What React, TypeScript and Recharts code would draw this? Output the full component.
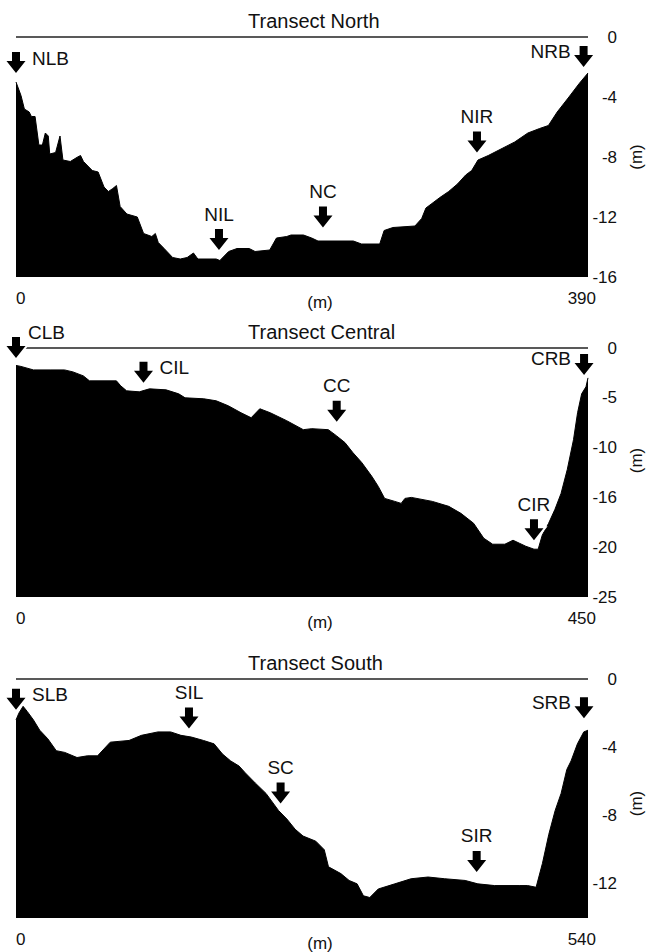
import React from 'react';
import { AreaChart, Area, XAxis, YAxis, ReferenceLine, ReferenceDot } from 'recharts';

const FONT = '"Liberation Sans", Arial, Helvetica, sans-serif';

// Transect North: distance across (m) and depth (m)
const northDistance = [0, 3.4, 5.7, 9, 10.5, 13, 15.6, 18, 20, 22, 23, 27, 30, 32, 37, 42, 44, 46, 52, 56, 60, 63, 66, 68.5, 71, 75.6, 82.7, 87, 92.6, 95, 97, 101, 106.8, 112, 116.7, 121, 124, 136.5, 139, 145, 150.7, 159, 163, 173, 177.6, 184.6, 187.5, 196, 201.6, 205.9, 230, 235.6, 248, 251, 257, 272, 276.6, 279.5, 283.6, 289, 295, 301, 306.6, 310.7, 315, 322, 332, 340, 349, 357, 363, 369, 377, 384, 390];
const northDepth = [-3.0, -3.9, -4.8, -5.0, -5.3, -5.3, -7.2, -7.2, -6.4, -6.6, -7.8, -7.7, -6.6, -8.2, -8.3, -8.0, -7.9, -8.3, -8.9, -9.0, -10.0, -10.3, -10.1, -9.9, -11.3, -11.8, -12.0, -13.1, -13.3, -13.1, -13.7, -14.1, -14.7, -14.8, -14.7, -14.4, -14.8, -14.8, -14.9, -14.3, -14.1, -14.1, -14.3, -14.2, -13.4, -13.3, -13.2, -13.2, -13.4, -13.6, -13.6, -13.8, -13.8, -12.9, -12.7, -12.6, -12.1, -11.4, -11.1, -10.7, -10.3, -9.8, -9.2, -8.9, -8.2, -7.9, -7.4, -7.0, -6.4, -6.1, -5.9, -5.0, -4.0, -3.1, -2.4];

// Transect Central
const centralDistance = [0, 3.9, 13.7, 26.8, 38.2, 44.8, 53, 57.8, 79, 82.4, 87, 97, 105, 118, 128, 133, 147.7, 157.5, 167, 177, 185, 191.8, 200, 213, 226, 232.7, 245.7, 252, 258.8, 265, 272, 280, 285, 290, 298, 303, 306, 311, 327.5, 340.5, 350, 360, 368, 375, 384.6, 391, 396, 401, 407.5, 410.8, 414, 419, 424, 428.8, 433.7, 438.6, 441.8, 445, 448.4, 450];
const centralDepth = [-1.75, -1.85, -2.2, -2.2, -2.2, -2.4, -2.8, -3.3, -3.3, -3.8, -4.3, -4.4, -4.1, -4.2, -4.6, -5.0, -5.1, -5.3, -5.8, -6.5, -7.0, -6.1, -6.5, -7.3, -8.2, -8.1, -8.2, -8.8, -9.5, -10.5, -11.5, -12.9, -13.9, -15.1, -15.4, -15.6, -15.1, -15.0, -15.4, -15.9, -16.6, -17.6, -19.1, -19.7, -19.7, -19.3, -19.6, -19.9, -20.2, -20.2, -18.8, -17.6, -16.2, -14.6, -12.2, -9.2, -6.5, -4.6, -3.9, -3.0];

// Transect South
const southDistance = [0, 2.7, 6.7, 10.6, 16.5, 22.4, 30, 38, 46, 57.6, 67.4, 77, 83, 89, 106.7, 118.4, 134, 146, 155.7, 165.5, 177, 187, 195, 202.7, 210.6, 216.5, 226, 236, 247.8, 255.7, 263.5, 271, 283, 291, 295, 306.7, 314.5, 322, 328, 334, 342, 357.6, 373, 389, 404.7, 424, 436, 451.8, 475, 483, 491, 497, 503, 509, 514.6, 520, 524, 530, 536, 540];
const southDepth = [-2.4, -2.0, -1.6, -1.9, -2.4, -3.0, -3.5, -4.2, -4.3, -4.6, -4.5, -4.5, -4.1, -3.7, -3.6, -3.3, -3.1, -3.1, -3.3, -3.4, -3.6, -3.8, -4.4, -4.8, -5.1, -5.5, -6.1, -6.7, -7.7, -8.2, -8.8, -9.2, -9.5, -10.0, -11.0, -11.4, -11.8, -12.0, -12.7, -12.8, -12.3, -12.0, -11.7, -11.6, -11.7, -11.8, -12.0, -12.1, -12.1, -12.1, -12.2, -10.8, -9.1, -7.7, -6.7, -5.3, -4.8, -3.8, -3.1, -3.0];

// arrow markers: station name, distance (m), depth of arrow tip (m)
const northMarkers = [
  { name: 'NLB', x: 0, y: -2.4 },
  { name: 'NIL', x: 138.4, y: -14.2 },
  { name: 'NC', x: 209.3, y: -12.7 },
  { name: 'NIR', x: 314.3, y: -7.7 },
  { name: 'NRB', x: 387, y: -2.0 },
];
const centralMarkers = [
  { name: 'CLB', x: 0, y: -1.0 },
  { name: 'CIL', x: 100.3, y: -3.5 },
  { name: 'CC', x: 252.3, y: -7.4 },
  { name: 'CIR', x: 407.5, y: -19.3 },
  { name: 'CRB', x: 446.9, y: -2.7 },
];
const southMarkers = [
  { name: 'SLB', x: 0, y: -1.8 },
  { name: 'SIL', x: 163.3, y: -2.9 },
  { name: 'SC', x: 249.8, y: -7.3 },
  { name: 'SIR', x: 434.9, y: -11.3 },
  { name: 'SRB', x: 536.2, y: -2.3 },
];

const northYTicks = [0, -4, -8, -12, -16];
const centralYTicks = [0, -5, -10, -15, -20, -25];
const centralYTickLabels = ['0', '-5', '-10', '-16', '-20', '-25'];
const southYTicks = [0, -4, -8, -12];

type Side = 'top' | 'right' | 'left' | 'upRight';
const labelSide: Record<string, Side> = {
  NLB: 'right', NIL: 'top', NC: 'top', NIR: 'top', NRB: 'left',
  CLB: 'upRight', CIL: 'right', CC: 'top', CIR: 'top', CRB: 'left',
  SLB: 'right', SIL: 'top', SC: 'top', SIR: 'top', SRB: 'left',
};

const zip = (xs: number[], ys: number[]) => xs.map((x, i) => ({ x, y: ys[i] }));

const Arrow = ({ cx, cy, name }: { cx: number; cy: number; name: string }) => {
  const pts = [
    [cx - 4, cy - 21], [cx + 4, cy - 21], [cx + 4, cy - 12], [cx + 9.5, cy - 12],
    [cx, cy], [cx - 9.5, cy - 12], [cx - 4, cy - 12],
  ].map((p) => p.join(',')).join(' ');
  const side = labelSide[name];
  let tx = cx, ty = cy - 36, anchor: 'start' | 'middle' | 'end' = 'middle';
  if (side === 'right') { tx = cx + 16; ty = cy - 15; anchor = 'start'; }
  if (side === 'left') { tx = cx - 13; ty = cy - 16; anchor = 'end'; }
  if (side === 'upRight') { tx = cx + 12; ty = cy - 25; anchor = 'start'; }
  return (
    <g>
      <polygon points={pts} fill="#fff" stroke="#fff" strokeWidth={4} />
      <polygon points={pts} fill="#000" />
      <text x={tx} y={ty} textAnchor={anchor} dominantBaseline="central" fontFamily={FONT} fontSize={19} fill="#111">
        {name}
      </text>
    </g>
  );
};

interface PanelProps {
  title: string;
  top: number;
  height: number;
  marginTop: number;
  xAxisHeight: number;
  data: { x: number; y: number }[];
  xMax: number;
  yMin: number;
  yTicks: number[];
  yTickLabels?: string[];
  markers: { name: string; x: number; y: number }[];
  unitDy: number;
  titleY: number;
}

const Panel: React.FC<PanelProps> = (p) => {
  const xTick = (t: any) => {
    const first = t.index === 0;
    return (
      <text x={first ? t.x : t.x + 8} y={t.y + 21} textAnchor={first ? 'start' : 'end'} dominantBaseline="central" fontFamily={FONT} fontSize={17} fill="#111">
        {t.payload.value}
      </text>
    );
  };
  const yTick = (t: any) => {
    const i = p.yTicks.indexOf(t.payload.value);
    const label = p.yTickLabels ? p.yTickLabels[i] : String(t.payload.value);
    return (
      <text x={t.x + 29} y={t.y} textAnchor="end" dominantBaseline="central" fontFamily={FONT} fontSize={17} fill="#111">
        {label}
      </text>
    );
  };
  const xUnit = (l: any) => {
    const vb = l.viewBox;
    return (
      <text x={vb.x + 304} y={vb.y + 25} textAnchor="middle" dominantBaseline="central" fontFamily={FONT} fontSize={17} fill="#111">
        (m)
      </text>
    );
  };
  const yUnit = (l: any) => {
    const vb = l.viewBox;
    const cx = vb.x + 48;
    const cy = vb.y + vb.height / 2 + p.unitDy;
    return (
      <text x={cx} y={cy} transform={`rotate(-90 ${cx} ${cy})`} textAnchor="middle" dominantBaseline="central" fontFamily={FONT} fontSize={17} fill="#111">
        (m)
      </text>
    );
  };

  return (
    <div style={{ position: 'absolute', left: 0, top: p.top, width: 647, height: p.height }}>
      <div style={{ position: 'absolute', left: 248, top: p.titleY - 11, fontFamily: FONT, fontSize: 20, lineHeight: '22px', color: '#111', whiteSpace: 'nowrap' }}>
        {p.title}
      </div>
      <AreaChart width={647} height={p.height} data={p.data} margin={{ top: p.marginTop, right: 0, bottom: 0, left: 16 }}>
        <XAxis
          dataKey="x"
          type="number"
          domain={[0, p.xMax]}
          ticks={[0, p.xMax]}
          interval={0}
          axisLine={false}
          tickLine={false}
          tickSize={0}
          tickMargin={0}
          height={p.xAxisHeight}
          tick={xTick}
          label={{ content: xUnit }}
        />
        <YAxis
          orientation="right"
          type="number"
          domain={[p.yMin, 0]}
          ticks={p.yTicks}
          interval={0}
          axisLine={false}
          tickLine={false}
          tickSize={0}
          tickMargin={0}
          width={59}
          tick={yTick}
          label={{ content: yUnit }}
        />
        <Area
          type="linear"
          dataKey="y"
          baseValue="dataMin"
          stroke="#000"
          strokeWidth={1}
          fill="#000"
          fillOpacity={1}
          isAnimationActive={false}
          dot={false}
          activeDot={false}
        />
        <ReferenceLine y={0} stroke="#222" strokeWidth={1.5} />
        {p.markers.map((m) => (
          <ReferenceDot
            key={m.name}
            x={m.x}
            y={m.y}
            r={1}
            shape={(s: any) => <Arrow cx={s.cx} cy={s.cy} name={m.name} />}
          />
        ))}
      </AreaChart>
    </div>
  );
};

export default function App() {
  return (
    <div style={{ position: 'absolute', left: 0, top: 0, width: 647, height: 952, background: '#fff' }}>
      <Panel
        title="Transect North"
        top={0}
        height={312}
        marginTop={37}
        xAxisHeight={35}
        data={zip(northDistance, northDepth)}
        xMax={390}
        yMin={-16}
        yTicks={northYTicks}
        markers={northMarkers}
        unitDy={0}
        titleY={21}
      />
      <Panel
        title="Transect Central"
        top={312}
        height={320}
        marginTop={36}
        xAxisHeight={35}
        data={zip(centralDistance, centralDepth)}
        xMax={450}
        yMin={-25}
        yTicks={centralYTicks}
        yTickLabels={centralYTickLabels}
        markers={centralMarkers}
        unitDy={-12}
        titleY={20}
      />
      <Panel
        title="Transect South"
        top={632}
        height={320}
        marginTop={47}
        xAxisHeight={34}
        data={zip(southDistance, southDepth)}
        xMax={540}
        yMin={-14}
        yTicks={southYTicks}
        markers={southMarkers}
        unitDy={5}
        titleY={31}
      />
    </div>
  );
}
